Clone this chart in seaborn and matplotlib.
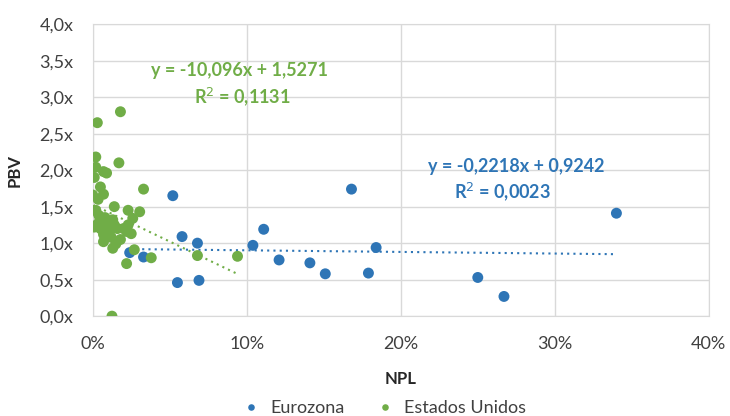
import numpy as np
import pandas as pd
import seaborn as sns
import matplotlib.pyplot as plt
from matplotlib.ticker import FuncFormatter, MultipleLocator

# NPL (%) and PBV (x)
euro_npl = [2.4, 3.3, 5.2, 5.5, 5.8, 6.8, 6.9, 10.4, 11.1, 12.1, 14.1, 15.1,
            16.8, 17.9, 18.4, 25.0, 26.7, 34.0]
euro_pbv = [0.87, 0.81, 1.65, 0.46, 1.09, 1.00, 0.49, 0.97, 1.19, 0.77, 0.73, 0.58,
            1.74, 0.59, 0.94, 0.53, 0.27, 1.41]

us_npl = [1.8, 0.3, 0.2, 1.7, 0.2, 0.7, 0.9, 0.1, 0.5, 3.3, 0.0, 0.7, 0.35,
          0.2, 1.4, 2.3, 3.05, 0.35, 1.2, 2.3, 2.5, 0.7, 1.5, 1.3, 2.7, 3.8,
          2.2, 6.8, 9.4, 1.25, 0.1, 0.3, 0.5, 0.6, 0.8, 0.9, 1.0, 1.1, 1.3,
          1.4, 0.7, 0.4, 1.2, 1.6, 2.0, 2.2, 2.6, 1.8, 0.0]
us_pbv = [2.80, 2.65, 2.18, 2.10, 2.04, 1.98, 1.96, 1.90, 1.77, 1.74, 1.66, 1.67, 1.60,
          1.45, 1.50, 1.45, 1.43, 1.27, 1.22, 1.25, 1.13, 1.02, 0.99, 0.93, 0.91, 0.80,
          0.72, 0.83, 0.82, 0.00, 1.22, 1.25, 1.20, 1.30, 1.35, 1.15, 1.28, 1.18, 1.32,
          1.25, 1.12, 1.38, 1.08, 1.20, 1.20, 1.16, 1.34, 1.05, 1.45]

# trendline coefficients as printed on the chart
euro_fit = (-0.2218, 0.9242, 0.0023)
us_fit = (-10.096, 1.5271, 0.1131)

blue = '#2E75B6'
green = '#70AD47'

df = pd.DataFrame({
    'NPL': np.array(euro_npl + us_npl) / 100,
    'PBV': euro_pbv + us_pbv,
    'Region': ['Eurozona'] * len(euro_npl) + ['Estados Unidos'] * len(us_npl),
})

sns.set_style('white')
plt.rcParams['font.family'] = ['Lato', 'DejaVu Sans']

fig, ax = plt.subplots(figsize=(7.3, 4.16), dpi=100)
fig.subplots_adjust(left=0.127, right=0.971, top=0.942, bottom=0.24)

sns.scatterplot(data=df, x='NPL', y='PBV', hue='Region',
                palette={'Eurozona': blue, 'Estados Unidos': green},
                s=62, edgecolor='none', ax=ax, zorder=3)

# dotted linear trendlines over each series' range
for xs, fit, col in [(euro_npl, euro_fit, blue), (us_npl, us_fit, green)]:
    xx = np.array([min(xs), max(xs)]) / 100
    ax.plot(xx, fit[0] * xx + fit[1], linestyle=(0, (1, 2)), color=col,
            linewidth=1.5, zorder=2)

def fmt_eq(fit):
    a = f'{fit[0]:.4f}'.rstrip('0') if abs(fit[0]) < 1 else f'{fit[0]:.3f}'
    return ('y = ' + a + 'x + ' + f'{fit[1]:.4f}').replace('.', ',')

eq_style = dict(fontsize=13, fontweight='bold', ha='center', va='center')
ax.text(0.0955, 3.37, fmt_eq(us_fit), color=green, **eq_style)
ax.text(0.097, 3.01, 'R$^2$ = ' + f'{us_fit[2]:.4f}'.replace('.', ','),
        color=green, **eq_style)
ax.text(0.275, 2.05, fmt_eq(euro_fit), color=blue, **eq_style)
ax.text(0.266, 1.70, 'R$^2$ = ' + f'{euro_fit[2]:.4f}'.replace('.', ','),
        color=blue, **eq_style)

ax.set_xlim(0, 0.40)
ax.set_ylim(0, 4.0)
ax.xaxis.set_major_locator(MultipleLocator(0.10))
ax.yaxis.set_major_locator(MultipleLocator(0.5))
ax.xaxis.set_major_formatter(FuncFormatter(lambda v, p: f'{v * 100:.0f}%'))
ax.yaxis.set_major_formatter(FuncFormatter(lambda v, p: f'{v:.1f}x'.replace('.', ',')))
ax.tick_params(axis='x', labelsize=13, colors='#404040', length=0, pad=14)
ax.tick_params(axis='y', labelsize=13, colors='#404040', length=0, pad=14)
ax.grid(True, color='#D9D9D9', linewidth=1)
ax.set_axisbelow(True)
for sp in ax.spines.values():
    sp.set_color('#D9D9D9')

ax.set_xlabel('NPL', fontsize=12, fontweight='bold', color='#262626', labelpad=14)
ax.set_ylabel('PBV', fontsize=12, fontweight='bold', color='#262626', labelpad=12)

handles, labels = ax.get_legend_handles_labels()
ax.legend_.remove()
leg = fig.legend(handles, labels, loc='lower center', bbox_to_anchor=(0.52, -0.04),
                 ncol=2, frameon=False, fontsize=13, markerscale=0.6,
                 handletextpad=0.1, columnspacing=1.2)
for t in leg.get_texts():
    t.set_color('#404040')

plt.savefig('out.png', dpi=100)
